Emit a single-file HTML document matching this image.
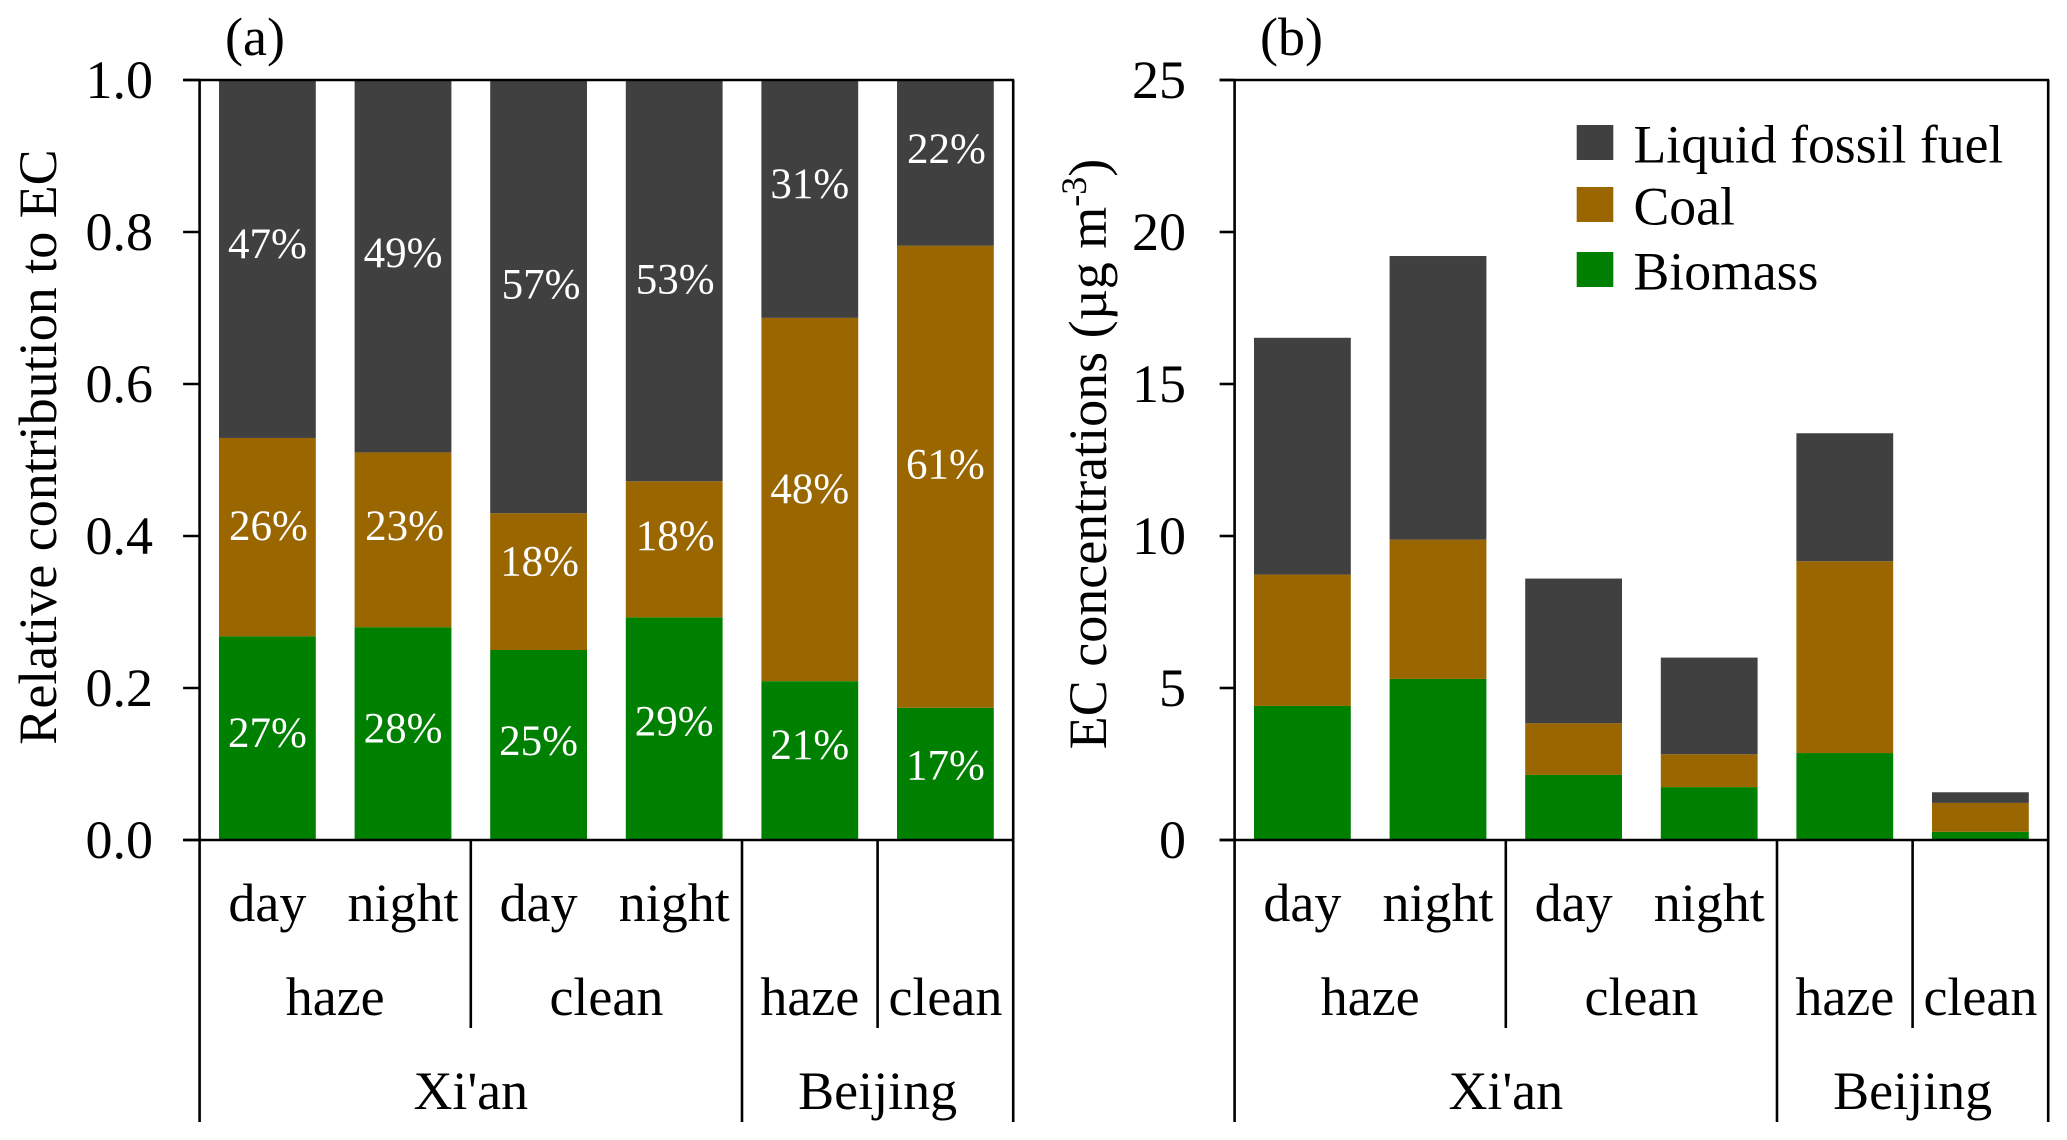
<!DOCTYPE html>
<html>
<head>
<meta charset="utf-8">
<title>EC source contributions and concentrations</title>
<style>
  html, body { margin: 0; padding: 0; background: #fff; }
  svg { display: block; }
  text { font-family: "Liberation Serif", "DejaVu Serif", serif; }
</style>
</head>
<body>
<svg id="figure" xmlns="http://www.w3.org/2000/svg" width="2067" height="1140" viewBox="0 0 2067 1140">
  <rect x="0" y="0" width="2067" height="1140" fill="#ffffff"/>
  <text x="255" y="55" font-size="54" text-anchor="middle" fill="#000">(a)</text>
  <text x="1291.5" y="55" font-size="54" text-anchor="middle" fill="#000">(b)</text>
  <text transform="translate(56 447) rotate(-90)" font-size="54" text-anchor="middle" fill="#000">Relative contribution to EC</text>
  <text transform="translate(1106 454) rotate(-90)" font-size="54" text-anchor="middle" fill="#000">EC concentrations (µg m<tspan font-size="36" dy="-20">-3</tspan><tspan dy="20">)</tspan></text>
  <g id="panel-a"></g>
  <g id="panel-b"></g>
  <g>
    <rect x="1576.7" y="125" width="36.6" height="35" fill="#404040"/>
    <text x="1633.5" y="162.5" font-size="53.7" fill="#000">Liquid fossil fuel</text>
    <rect x="1576.7" y="187" width="36.6" height="35" fill="#996600"/>
    <text x="1633.5" y="224.5" font-size="53.7" fill="#000">Coal</text>
    <rect x="1576.7" y="252" width="36.6" height="35" fill="#008000"/>
    <text x="1633.5" y="289.5" font-size="53.7" fill="#000">Biomass</text>
  </g>
</svg>
<script>
// ---- chart data ----
const dayNightLabels = ['day', 'night', 'day', 'night'];
const conditionLabels = ['haze', 'clean', 'haze', 'clean'];
const conditionSpans = [2, 2, 1, 1];
const cityLabels = ["Xi'an", 'Beijing'];
const citySpans = [4, 2];

const seriesNames = ['biomass', 'coal', 'liquid-fossil-fuel'];

const shareBiomass = [0.268, 0.280, 0.250, 0.293, 0.209, 0.174];
const shareCoal = [0.261, 0.230, 0.180, 0.179, 0.478, 0.608];
const shareLiquid = [0.471, 0.490, 0.570, 0.528, 0.313, 0.218];

const printedBiomass = ['27%', '28%', '25%', '29%', '21%', '17%'];
const printedCoal = ['26%', '23%', '18%', '18%', '48%', '61%'];
const printedLiquid = ['47%', '49%', '57%', '53%', '31%', '22%'];

const concBiomass = [4.41, 5.30, 2.14, 1.74, 2.86, 0.27];
const concCoal = [4.32, 4.58, 1.70, 1.08, 6.31, 0.95];
const concLiquid = [7.79, 9.33, 4.76, 3.18, 4.21, 0.35];

const shareTicks = ['0.0', '0.2', '0.4', '0.6', '0.8', '1.0'];
const concTicks = ['0', '5', '10', '15', '20', '25'];

// ---- layout ----
const SVG_NS = 'http://www.w3.org/2000/svg';
const COLORS = ['#008000', '#996600', '#404040'];
const TOP = 80, BOTTOM = 840, PITCH = 135.6, BAR_W = 96.8;
const TIER1_Y = 921, TIER2_Y = 1015, TIER3_Y = 1109, SHORT_END = 1028, LONG_END = 1122;
const LINE_W = 2.6;
// Hand placement of the printed percentages relative to their segment centres (the source figure nudges them by hand).
const LABEL_LIFT = [
  [-5.5, -5.5, -4.5, -7.5, -16, -9],
  [-11.5, -14.5, -20.5, -14, -11, -12.5],
  [-15.5, -13.5, -12.5, -1.5, -15.5, -14.5]
];
const LABEL_SHIFT = [
  [0, 0, 0, 0, 0, 0],
  [1, 1.5, 1, 1, 0, 0],
  [0, 0, 2.5, 1, 0, 1]
];

function make(tag, parent, attrs, content) {
  const el = document.createElementNS(SVG_NS, tag);
  for (const k in attrs) el.setAttribute(k, attrs[k]);
  if (content !== undefined) el.textContent = content;
  parent.appendChild(el);
  return el;
}

function rule(parent, name, x1, y1, x2, y2) {
  const el = make('line', parent, { x1: x1, y1: y1, x2: x2, y2: y2, stroke: '#000', 'stroke-width': LINE_W });
  
  
  return el;
}

function label(parent, name, x, y, size, anchor, fill, content) {
  const el = make('text', parent, { x: x, y: y, 'font-size': size, 'text-anchor': anchor, fill: fill }, content);
  
  
  return el;
}

function drawPanel(panelId, x0, yMax, tickLabels, tickStep, tickLeft, tickRight, stacks, printed) {
  const g = document.getElementById(panelId);
  const xScale = function (pos) { return x0 + PITCH * pos; };
  const yScale = function (v) { return BOTTOM - (BOTTOM - TOP) * v / yMax; };

  // stacked bars
  stacks[0].forEach(function (_, col) {
    let base = 0;
    stacks.forEach(function (values, s) {
      const top = base + values[col];
      const bar = make('rect', g, {
        x: xScale(col + 0.5) - BAR_W / 2,
        y: yScale(top),
        width: BAR_W,
        height: yScale(base) - yScale(top),
        fill: COLORS[s]
      });
      
      
      if (printed) {
        const mid = (yScale(base) + yScale(top)) / 2;
        const txt = label(g, 'bar-value-label', xScale(col + 0.5) + LABEL_SHIFT[s][col], mid + 14.5 + LABEL_LIFT[s][col], 43, 'middle', '#ffffff', printed[s][col]);
        
      }
      base = top;
    });
  });

  // axes frame
  const right = xScale(6);
  rule(g, 'y-axis-line', x0, TOP, x0, LONG_END);
  rule(g, 'right-border-line', right, TOP, right, LONG_END);
  rule(g, 'top-border-line', x0 - tickLeft, TOP, right + 1, TOP);
  rule(g, 'x-axis-line', x0 - tickLeft, BOTTOM, right + 1, BOTTOM);

  // y ticks
  tickLabels.forEach(function (t, i) {
    const v = i * tickStep;
    const y = yScale(v);
    rule(g, 'y-tick', x0 - tickLeft, y, x0, y);
    label(g, 'y-tick-label', tickRight, y + 18, 54, 'end', '#000', t);
  });

  // hierarchical x labels
  dayNightLabels.forEach(function (t, i) {
    label(g, 'x-label-' + t, xScale(i + 0.5), TIER1_Y, 54, 'middle', '#000', t);
  });
  let pos = 0;
  conditionLabels.forEach(function (t, i) {
    const span = conditionSpans[i];
    label(g, 'x-label-' + t, xScale(pos + span / 2), TIER2_Y, 54, 'middle', '#000', t);
    pos += span;
    if (pos < 6 && pos !== citySpans[0]) rule(g, 'condition-divider', xScale(pos), BOTTOM, xScale(pos), SHORT_END);
  });
  pos = 0;
  cityLabels.forEach(function (t, i) {
    const span = citySpans[i];
    label(g, 'x-label-city', xScale(pos + span / 2), TIER3_Y, 54, 'middle', '#000', t);
    pos += span;
    if (pos < 6) rule(g, 'city-divider', xScale(pos), BOTTOM, xScale(pos), LONG_END);
  });
}

drawPanel('panel-a', 199.6, 1, shareTicks, 0.2, 16.5, 153,
  [shareBiomass, shareCoal, shareLiquid],
  [printedBiomass, printedCoal, printedLiquid]);

drawPanel('panel-b', 1234.6, 25, concTicks, 5, 15, 1186,
  [concBiomass, concCoal, concLiquid],
  null);
</script>
</body>
</html>
